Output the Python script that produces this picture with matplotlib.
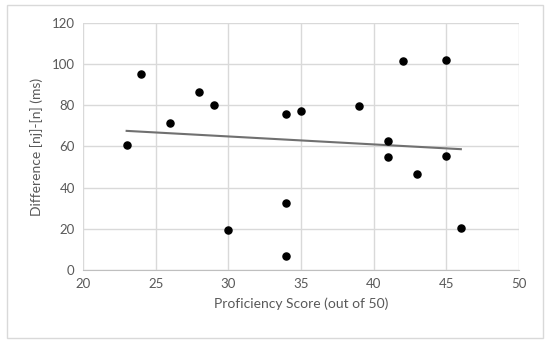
import matplotlib
matplotlib.use("Agg")
import matplotlib.pyplot as plt
from matplotlib.patches import Rectangle
import numpy as np

# proficiency score vs. [nj]-[n] difference
score = [23, 24, 26, 28, 29, 30, 34, 34, 34, 35, 39, 41, 41, 42, 43, 45, 45, 46]
diff = [60.7, 95.3, 71.6, 86.6, 80.1, 19.5, 75.9, 32.4, 7.0, 77.1, 79.8,
        62.7, 54.8, 101.3, 46.8, 102.1, 55.6, 20.3]

xticks = [20, 25, 30, 35, 40, 45, 50]
yticks = [0, 20, 40, 60, 80, 100, 120]

text_col = "#595959"
grid_col = "#D9D9D9"

plt.rcParams['font.family'] = ['Lato', 'DejaVu Sans']

fig = plt.figure(figsize=(5.5, 3.46), dpi=100)
ax = fig.add_axes([0.151, 0.2197, 0.7926, 0.7138])

# outer chart border
fig.patches.append(Rectangle((7 / 550, 1 - 338 / 346), 536 / 550, 333 / 346,
                             transform=fig.transFigure, fill=False,
                             edgecolor=grid_col, linewidth=1))

ax.scatter(score, diff, s=26, color="black", zorder=3)

# linear trendline
k, b = np.polyfit(score, diff, 1)
tx = np.array([min(score), max(score)])
ax.plot(tx, k * tx + b, color="#707070", linewidth=1.5, zorder=2)

ax.set_xlim(20, 50)
ax.set_ylim(0, 120)
ax.set_xticks(xticks)
ax.set_yticks(yticks)
ax.grid(color=grid_col, linewidth=1)
ax.set_axisbelow(True)
for s in ax.spines.values():
    s.set_visible(False)
ax.spines['bottom'].set_visible(True)
ax.spines['bottom'].set_color("#BFBFBF")
ax.tick_params(length=0, labelsize=9.5, colors=text_col, pad=6)

ax.set_xlabel("Proficiency Score (out of 50)", fontsize=10, color=text_col, labelpad=5)
ax.set_ylabel("Difference [nj]-[n] (ms)", fontsize=10, color=text_col, labelpad=6)

fig.savefig("out.png", dpi=100)
